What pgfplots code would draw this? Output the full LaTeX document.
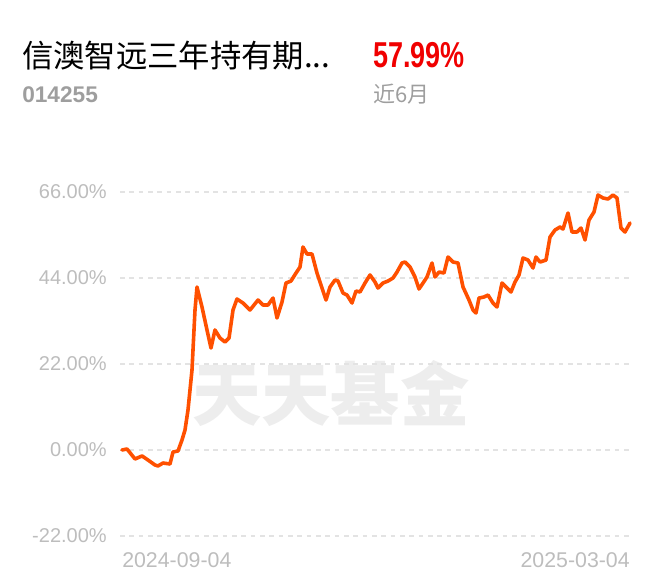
\documentclass[border=0pt]{standalone}
\usepackage{fontspec}
\setmainfont{Liberation Sans}
\newfontfamily\cjk{Noto Sans CJK SC}
\newfontfamily\narrow[FakeStretch=0.75]{Liberation Sans}
\usepackage{pgfplots}
\pgfplotsset{compat=1.18}
\definecolor{lineor}{HTML}{FF5000}
\definecolor{titlered}{HTML}{F00000}
\definecolor{gridc}{HTML}{E3E3E3}
\definecolor{tickc}{HTML}{BDBDBD}
\definecolor{subg}{HTML}{9E9E9E}
\definecolor{wm}{HTML}{EDEDED}
\begin{document}
\begin{tikzpicture}
\path[use as bounding box] (0,0) rectangle (495pt,438.75pt);
% watermark
\node[text=wm, inner sep=0pt] at (248pt,143.5pt) {\cjk\bfseries\fontsize{52pt}{56pt}\selectfont 天天基金};
% header
\node[anchor=base west, inner sep=0pt] at (16.5pt,387.75pt) {\cjk\fontsize{23.5pt}{26pt}\selectfont 信澳智远三年持有期...};
\node[anchor=base west, inner sep=0pt, text=titlered] at (279.75pt,387.75pt) {\narrow\bfseries\fontsize{27pt}{30pt}\selectfont 57.99\%};
\node[anchor=base west, inner sep=0pt, text=subg] at (16.5pt,361.5pt) {\bfseries\fontsize{17pt}{20pt}\selectfont 014255};
\node[anchor=base west, inner sep=0pt, text=subg] at (279.75pt,361.5pt) {\cjk\fontsize{16.5pt}{20pt}\selectfont 近6月};
\begin{axis}[
  at={(90pt,36.75pt)}, anchor=south west,
  scale only axis, width=384pt, height=258pt,
  xmin=120, xmax=632, ymin=-22, ymax=66,
  axis line style={draw=none},
  major tick length=0pt,
  xtick=\empty,
  ytick={-22,0,22,44,66},
  yticklabels={-22.00\%,0.00\%,22.00\%,44.00\%,66.00\%},
  yticklabel style={text=tickc, font=\fontsize{15pt}{18pt}\selectfont, anchor=east, inner sep=0pt, xshift=-9.75pt},
  ymajorgrids,
  grid style={gridc, line width=0.8pt, dash pattern=on 3.5pt off 3.5pt},
  clip=false,
]
\addplot[lineor, line width=2.7pt, line join=round, line cap=round] coordinates {
(122,0.0)(127,0.26)(135,-2.30)(142,-1.53)(148,-2.56)(155,-3.84)(158,-4.09)(163,-3.33)(170,-3.58)(173,-0.51)(178,-0.26)(182,2.56)(185,5.12)(188,10.23)(192,20.47)(195,35.81)(197,41.70)(202,36.58)(207,30.70)(211,26.09)(215,30.70)(220,28.65)(225,27.63)(229,28.65)(233,35.81)(237,38.63)(243,37.60)(250,35.81)(258,38.37)(263,37.09)(268,37.09)(273,38.88)(277,33.77)(282,37.86)(286,42.72)(291,43.23)(296,45.28)(300,46.81)(303,51.93)(307,50.14)(312,50.14)(317,45.28)(322,41.44)(326,38.37)(330,41.70)(335,43.49)(338,43.23)(343,40.16)(347,39.65)(352,37.60)(356,40.67)(360,40.42)(365,42.72)(370,44.77)(375,42.98)(378,41.44)(383,42.72)(388,43.23)(393,44.00)(397,45.53)(402,47.84)(405,48.09)(410,46.81)(415,44.26)(419,41.19)(423,42.72)(427,44.26)(432,47.84)(435,44.26)(439,45.53)(444,45.28)(448,49.37)(453,48.09)(458,47.84)(463,41.70)(469,38.37)(473,35.81)(476,35.05)(479,38.88)(484,39.14)(488,39.65)(493,37.60)(497,36.58)(502,42.72)(507,41.44)(511,40.42)(515,42.98)(519,44.77)(523,49.12)(528,48.60)(533,46.56)(536,49.37)(540,48.09)(546,48.60)(550,54.49)(555,56.28)(560,57.05)(563,56.53)(568,60.63)(572,55.77)(577,55.77)(581,56.79)(585,53.72)(589,58.84)(594,60.88)(598,65.23)(603,64.47)(608,64.21)(613,65.23)(617,64.47)(621,56.79)(625,55.77)(630,58.07)
};
\end{axis}
\node[anchor=west, inner sep=0pt, text=tickc] at (91.5pt,18.75pt) {\fontsize{16pt}{18pt}\selectfont 2024-09-04};
\node[anchor=east, inner sep=0pt, text=tickc] at (472.5pt,18.75pt) {\fontsize{16pt}{18pt}\selectfont 2025-03-04};
\end{tikzpicture}
\end{document}
